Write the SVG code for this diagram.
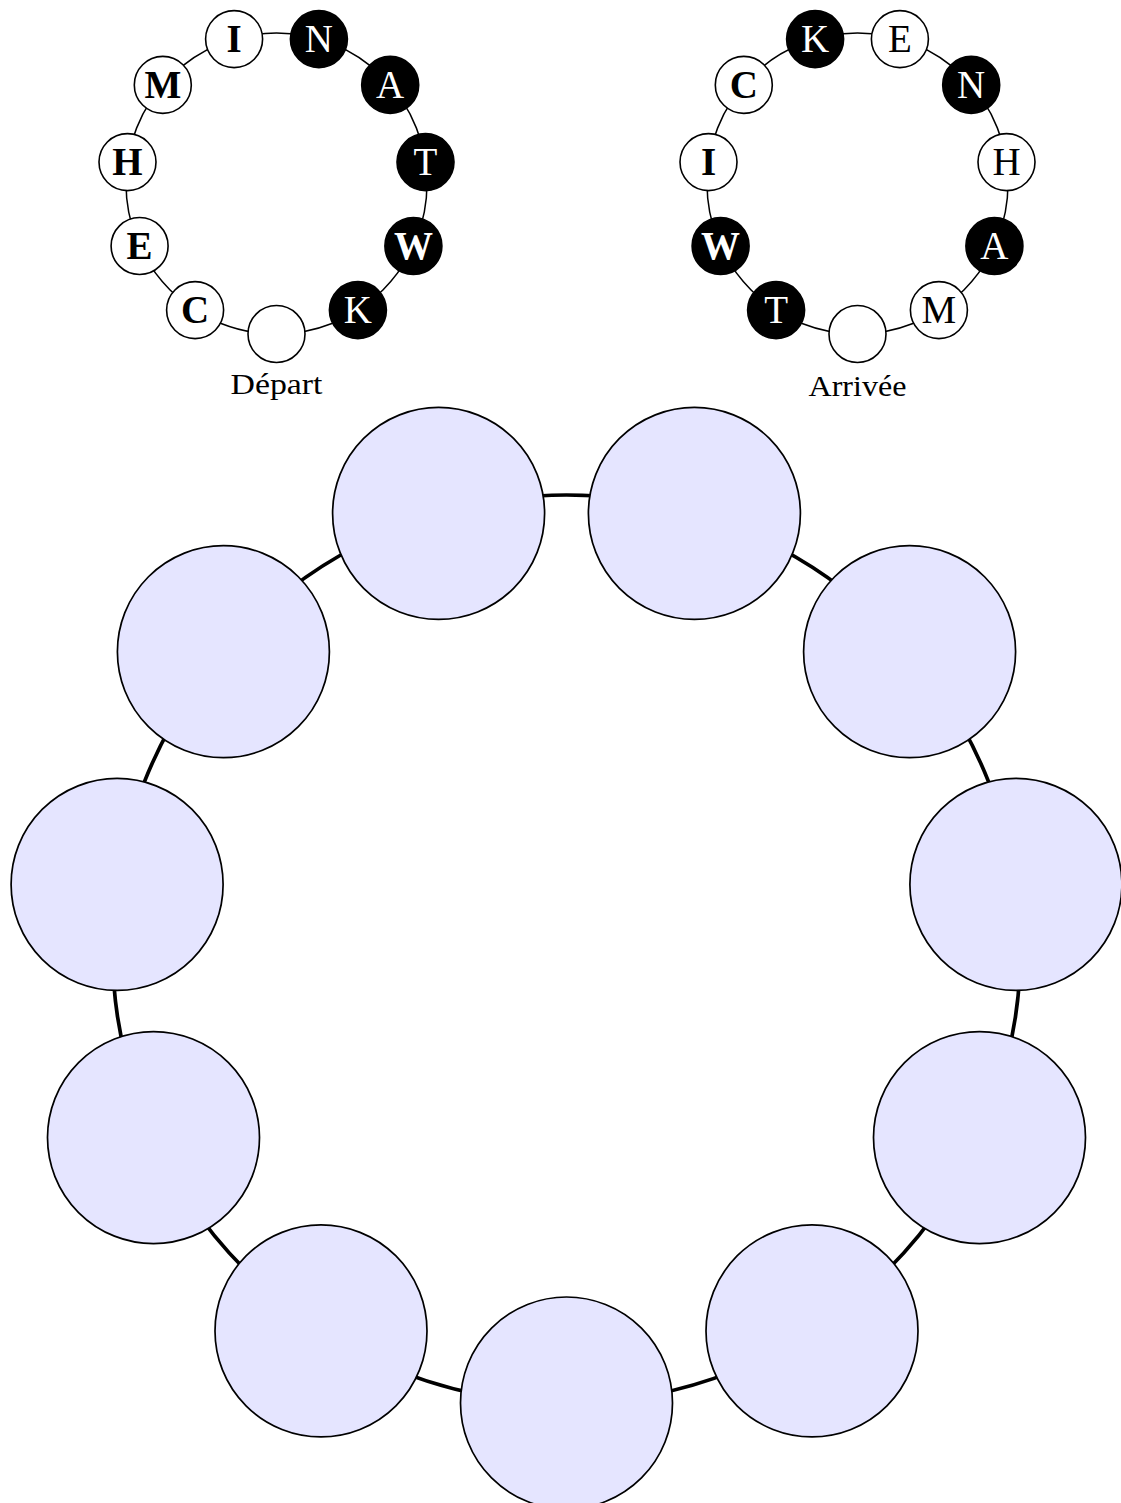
<svg xmlns="http://www.w3.org/2000/svg" width="1121" height="1503" viewBox="0 0 1121 1503">
<style>
.ring{fill:none;stroke:#000;stroke-width:1.5}
.bigring{fill:none;stroke:#000;stroke-width:3.7}
.w{fill:#fff;stroke:#000;stroke-width:1.6}
.b{fill:#000;stroke:#000;stroke-width:1.6}
.big{fill:#e5e5ff;stroke:#000;stroke-width:1.7}
text{font-family:"Liberation Serif","DejaVu Serif",serif;text-anchor:middle}
.lt{font-size:39px;font-weight:bold}
.lr{font-size:39px;font-weight:normal}
.on{fill:#000}
.off{fill:#fff}
.cap{font-size:29px;fill:#000}
</style>
<rect width="1121" height="1503" fill="#fff"/>
<g id="connectors">
<circle class="ring" cx="276.5" cy="183.5" r="150.5"/>
<circle class="ring" cx="857.5" cy="183.5" r="150.5"/>
<circle class="bigring" cx="566.5" cy="949" r="454"/>
</g>
<g id="depart">
<g id="d0"><circle class="w" cx="276.5" cy="334" r="28.5"/></g>
<g id="d1"><circle class="b" cx="357.9" cy="310.1" r="28.5"/><text class="lr off" x="357.9" y="323">K</text></g>
<g id="d2"><circle class="b" cx="413.4" cy="246" r="28.5"/><text class="lt off" x="413.4" y="258.9">W</text></g>
<g id="d3"><circle class="b" cx="425.5" cy="162.1" r="28.5"/><text class="lr off" x="425.5" y="175">T</text></g>
<g id="d4"><circle class="b" cx="390.2" cy="84.9" r="28.5"/><text class="lr off" x="390.2" y="97.8">A</text></g>
<g id="d5"><circle class="b" cx="318.9" cy="39.1" r="28.5"/><text class="lr off" x="318.9" y="52">N</text></g>
<g id="d6"><circle class="w" cx="234.1" cy="39.1" r="28.5"/><text class="lt on" x="234.1" y="52">I</text></g>
<g id="d7"><circle class="w" cx="162.8" cy="84.9" r="28.5"/><text class="lt on" x="162.8" y="97.8">M</text></g>
<g id="d8"><circle class="w" cx="127.5" cy="162.1" r="28.5"/><text class="lt on" x="127.5" y="175">H</text></g>
<g id="d9"><circle class="w" cx="139.6" cy="246" r="28.5"/><text class="lt on" x="139.6" y="258.9">E</text></g>
<g id="d10"><circle class="w" cx="195.1" cy="310.1" r="28.5"/><text class="lt on" x="195.1" y="323">C</text></g>
<text id="depart-label" class="cap" x="276.5" y="394" textLength="92" lengthAdjust="spacingAndGlyphs">Départ</text>
</g>
<g id="arrivee">
<g id="a0"><circle class="w" cx="857.5" cy="334" r="28.5"/></g>
<g id="a1"><circle class="w" cx="938.9" cy="310.1" r="28.5"/><text class="lr on" x="938.9" y="323">M</text></g>
<g id="a2"><circle class="b" cx="994.4" cy="246" r="28.5"/><text class="lr off" x="994.4" y="258.9">A</text></g>
<g id="a3"><circle class="w" cx="1006.5" cy="162.1" r="28.5"/><text class="lr on" x="1006.5" y="175">H</text></g>
<g id="a4"><circle class="b" cx="971.2" cy="84.9" r="28.5"/><text class="lr off" x="971.2" y="97.8">N</text></g>
<g id="a5"><circle class="w" cx="899.9" cy="39.1" r="28.5"/><text class="lr on" x="899.9" y="52">E</text></g>
<g id="a6"><circle class="b" cx="815.1" cy="39.1" r="28.5"/><text class="lr off" x="815.1" y="52">K</text></g>
<g id="a7"><circle class="w" cx="743.8" cy="84.9" r="28.5"/><text class="lt on" x="743.8" y="97.8">C</text></g>
<g id="a8"><circle class="w" cx="708.5" cy="162.1" r="28.5"/><text class="lt on" x="708.5" y="175">I</text></g>
<g id="a9"><circle class="b" cx="720.6" cy="246" r="28.5"/><text class="lt off" x="720.6" y="258.9">W</text></g>
<g id="a10"><circle class="b" cx="776.1" cy="310.1" r="28.5"/><text class="lr off" x="776.1" y="323">T</text></g>
<text id="arrivee-label" class="cap" x="857.5" y="396" textLength="98" lengthAdjust="spacingAndGlyphs">Arrivée</text>
</g>
<g id="big">
<g id="b0"><circle class="big" cx="566.5" cy="1403" r="106"/></g>
<g id="b1"><circle class="big" cx="812" cy="1330.9" r="106"/></g>
<g id="b2"><circle class="big" cx="979.5" cy="1137.6" r="106"/></g>
<g id="b3"><circle class="big" cx="1015.9" cy="884.4" r="106"/></g>
<g id="b4"><circle class="big" cx="909.6" cy="651.7" r="106"/></g>
<g id="b5"><circle class="big" cx="694.4" cy="513.4" r="106"/></g>
<g id="b6"><circle class="big" cx="438.6" cy="513.4" r="106"/></g>
<g id="b7"><circle class="big" cx="223.4" cy="651.7" r="106"/></g>
<g id="b8"><circle class="big" cx="117.1" cy="884.4" r="106"/></g>
<g id="b9"><circle class="big" cx="153.5" cy="1137.6" r="106"/></g>
<g id="b10"><circle class="big" cx="321" cy="1330.9" r="106"/></g>
</g>
</svg>
